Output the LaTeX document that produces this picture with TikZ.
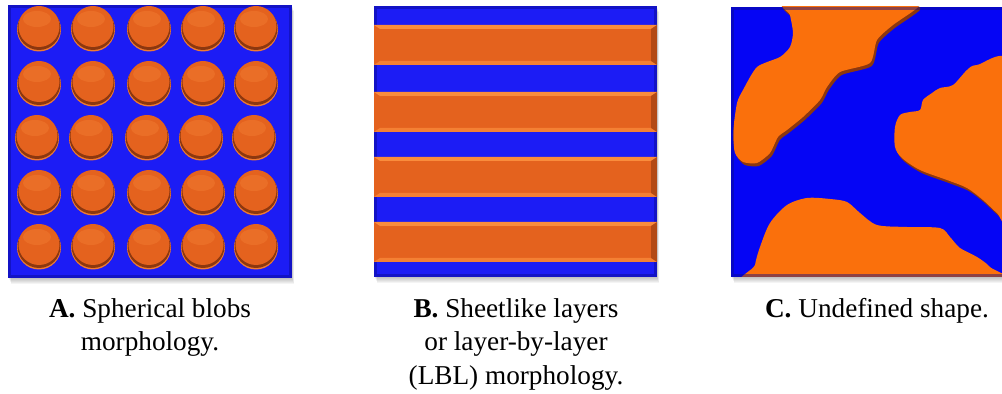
\documentclass[tikz,border=0pt]{standalone}
\usepackage{fontspec}
\setmainfont{Liberation Serif}
\usetikzlibrary{calc}

\definecolor{matrixblue}{RGB}{28,28,245}
\definecolor{matrixdark}{RGB}{10,10,140}
\definecolor{phaseorange}{RGB}{228,98,30}
\definecolor{phaselight}{RGB}{250,140,60}
\definecolor{phasedark}{RGB}{140,55,15}
\definecolor{blobblue}{RGB}{5,5,245}
\definecolor{bloborange}{RGB}{250,112,12}

% soft drop shadow under a panel
\newcommand{\panelshadow}[4]{%
  \foreach \d in {1,...,6}
    \fill[black, opacity=0.045] (#1+\d*0.5,#2+\d) rectangle (#3+\d*0.3,#4+\d);
}

\begin{document}
\begin{tikzpicture}[x=0.02cm, y=-0.02cm,
    caption/.style={anchor=north, align=center, inner sep=0pt,
      font=\fontsize{15.5}{19}\selectfont},
    bevel/.style={draw=matrixdark, line width=2.2pt, opacity=0.45}]
  \useasboundingbox (0,0) rectangle (1002,394);

  % Panel A: spherical blobs
  \panelshadow{8}{5}{292}{278}
  \fill[matrixblue] (8,5) rectangle (292,278);
  \path[bevel] (9.5,6.5) rectangle (290.5,276.5);
  \foreach \cy/\dx in {28/0, 83/0, 137/-2, 192/0, 246/0}
    \foreach \cx in {39,93,149,203,256} {
      \fill[phaselight!60!phaseorange] (\cx+\dx,\cy+1.5) circle (22);
      \fill[phasedark] (\cx+\dx,\cy+0.5) circle (21.5);
      \fill[phaseorange] (\cx+\dx,\cy-1.5) circle (20.5);
      \fill[phaselight, opacity=0.3] (\cx+\dx-2,\cy-9) ellipse (14 and 8);
    }

  % Panel B: sheetlike layers
  \panelshadow{374}{6}{657}{277}
  \fill[matrixblue] (374,6) rectangle (657,277);
  \path[bevel] (375.5,7.5) rectangle (655.5,275.5);
  \foreach \t/\b in {25/65, 92/132, 157/197, 222/262} {
    \fill[phaseorange] (374,\t) rectangle (657,\b);
    \fill[phaselight] (374,\t) -- (657,\t) -- (651,\t+4) -- (380,\t+4) -- cycle;
    \fill[phaselight!70!phaseorange] (374,\b) -- (657,\b) -- (651,\b-4) -- (380,\b-4) -- cycle;
    \fill[phasedark, opacity=0.55] (657,\t) -- (657,\b) -- (651,\b-4) -- (651,\t+4) -- cycle;
  }

  % Panel C: undefined shape
  \panelshadow{731}{7}{1002}{277}
  \fill[blobblue] (731,7) rectangle (1002,277);
  \begin{scope}
    \clip (731,7) rectangle (1002,277);
    \foreach \off/\col in {3/phasedark, 0/bloborange} {
      \begin{scope}[shift={(\off*0.6,\off)}]
        \fill[\col] plot[smooth cycle, tension=0.4] coordinates {
          (786,2) (905,2) (918,7) (893,25) (877,40) (870,63) (840,72)
          (827,87) (820,100) (803,117) (787,130) (778,137) (770,153)
          (757,163) (743,162) (735,153) (733,133) (737,103) (743,90)
          (757,67) (780,57) (790,47) (793,33) (790,15)};
        \fill[\col] plot[smooth cycle, tension=0.5] coordinates {
          (1012,66) (977,65) (967,70) (953,85) (940,88) (932,93)
          (923,100) (920,110) (910,112) (900,115) (895,127) (895,147)
          (902,158) (920,170) (947,180) (967,188) (983,200) (997,213)
          (1012,224)};
        \fill[\col] plot[smooth cycle, tension=0.5] coordinates {
          (752,290) (755,265) (760,247) (770,223) (787,205) (807,198)
          (830,199) (847,202) (860,213) (877,225) (907,227) (940,228)
          (950,237) (960,248) (977,257) (990,267) (1008,290)};
      \end{scope}
    }
    \path[bevel] (732.5,8.5) rectangle (1010,275.5);
  \end{scope}

  % Captions
  \node[caption] (capA) at (150,298) {\textbf{A.} Spherical blobs\\morphology.};
  \node[caption] (capB) at (516,298) {\textbf{B.} Sheetlike layers\\or layer-by-layer\\(LBL) morphology.};
  \node[caption] (capC) at (877,298) {\textbf{C.} Undefined shape.};
\end{tikzpicture}
\end{document}
